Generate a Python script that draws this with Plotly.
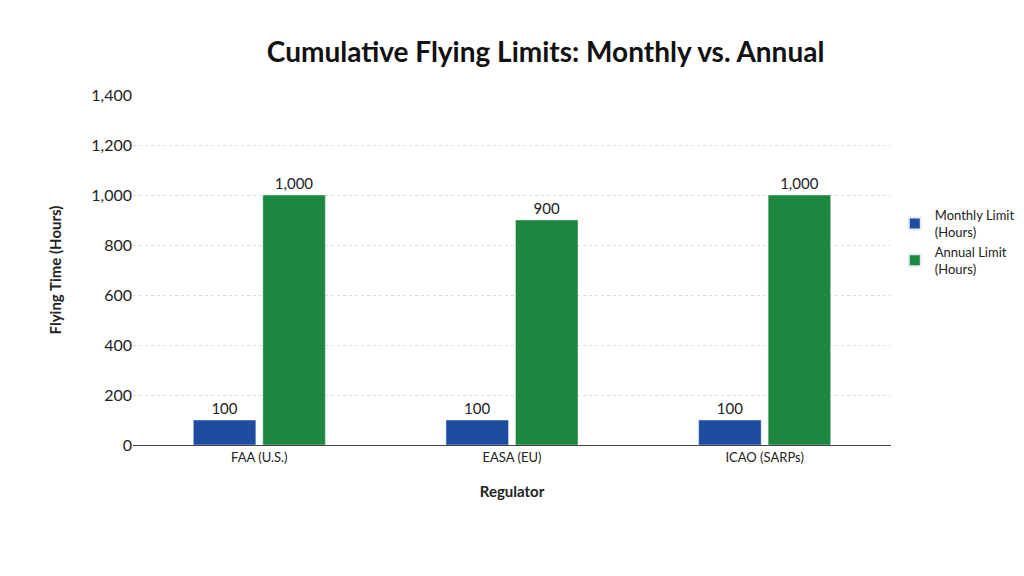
import plotly.graph_objects as go

regulators = ["FAA (U.S.)", "EASA (EU)", "ICAO (SARPs)"]
monthly = [100, 100, 100]
annual = [1000, 900, 1000]

fig = go.Figure()
fig.add_bar(x=regulators, y=monthly, name="Monthly Limit<br>(Hours)", marker_color="#1f4c9e",
            text=[f"{v:,}" for v in monthly], textposition="outside", textfont=dict(size=15, color="#222"))
fig.add_bar(x=regulators, y=annual, name="Annual Limit<br>(Hours)", marker_color="#1b873f",
            text=[f"{v:,}" for v in annual], textposition="outside", textfont=dict(size=15, color="#222"))

fig.update_layout(
    width=1024, height=576, paper_bgcolor="white", plot_bgcolor="white",
    font=dict(family="Lato, sans-serif", size=14, color="#222"),
    title=dict(text="<b>Cumulative Flying Limits: Monthly vs. Annual</b>", x=0.525, xanchor="center",
               y=0.94, font=dict(size=28, color="#111")),
    margin=dict(l=125, r=130, t=87, b=139),
    barmode="group", bargap=0.45, bargroupgap=0.1,
    legend=dict(x=1.005, y=0.58, xanchor="left", yanchor="middle", font=dict(size=13),
                tracegroupgap=25, itemwidth=30, itemsizing="constant"),
    xaxis=dict(title=dict(text="<b>Regulator</b>", standoff=22, font=dict(size=15)), showline=True,
               linecolor="#444", ticks="", tickfont=dict(size=13)),
    yaxis=dict(title=dict(text="<b>Flying Time (Hours)</b>", font=dict(size=15), standoff=25), range=[0, 1400],
               dtick=200, tickformat=",", gridcolor="#ddd", griddash="dot", zeroline=False,
               tickfont=dict(size=16), showline=False),
)
fig.write_html("out.html")
